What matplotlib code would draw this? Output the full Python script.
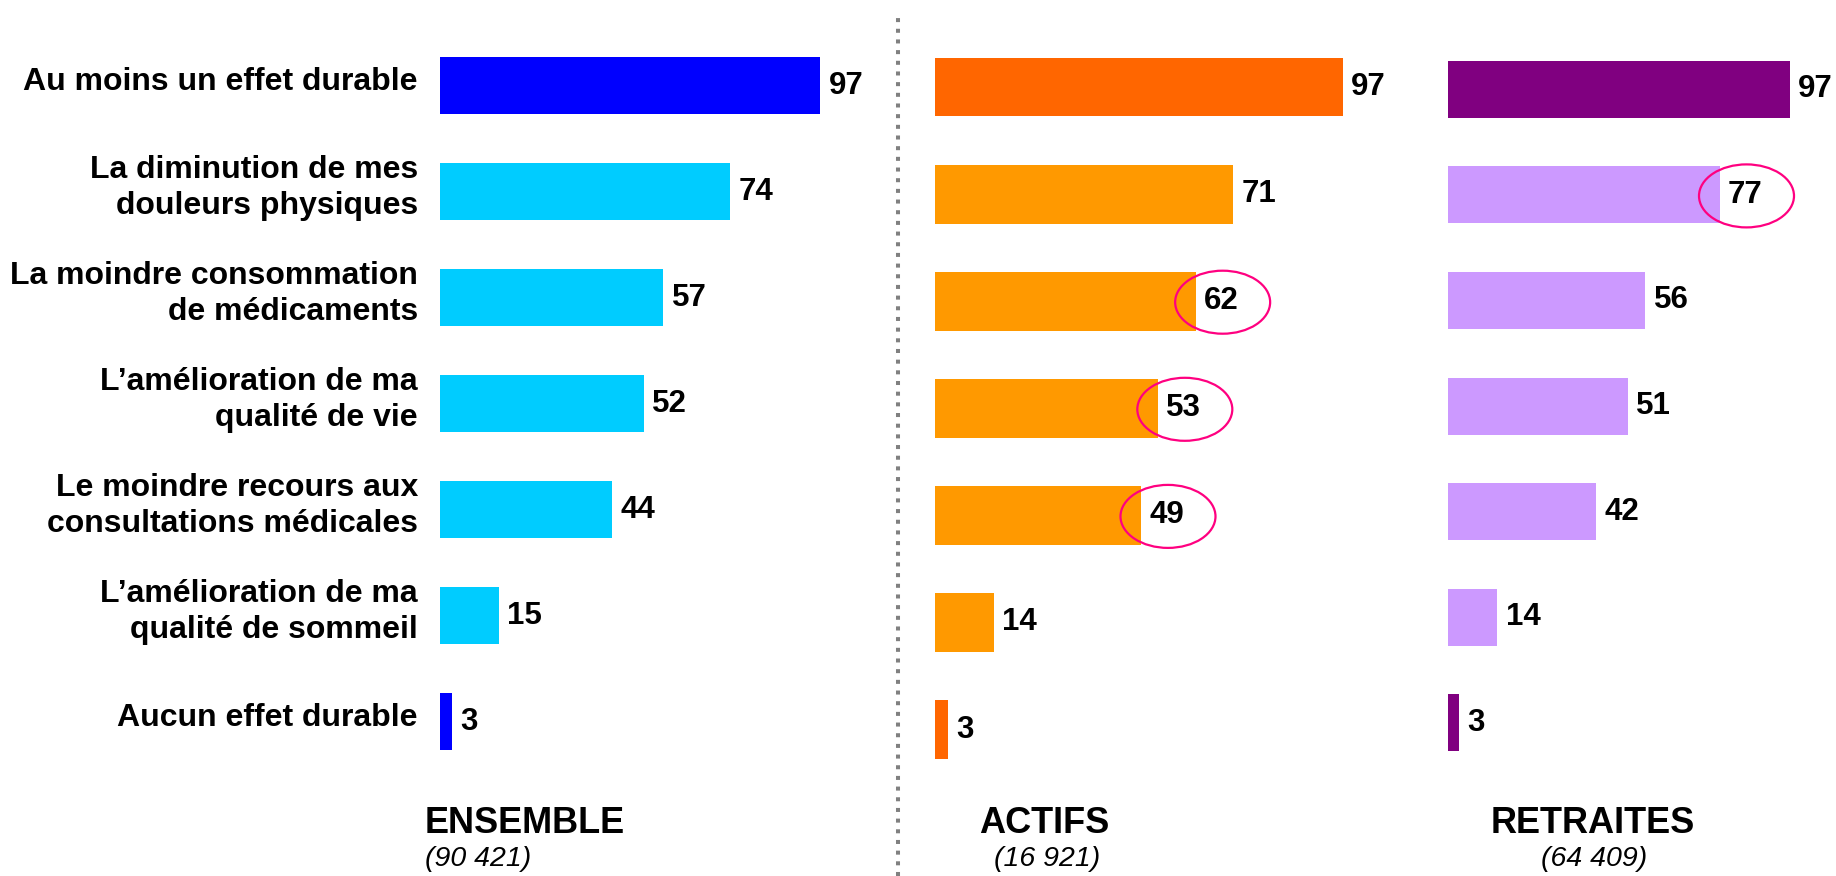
import matplotlib
matplotlib.use("Agg")
import matplotlib.pyplot as plt
from matplotlib.patches import Ellipse
from matplotlib.lines import Line2D
import matplotlib.transforms as mtransforms

plt.rcParams['font.family'] = ['Liberation Sans', 'DejaVu Sans']

categories = [
    "Au moins un effet durable",
    "La diminution de mes\ndouleurs physiques",
    "La moindre consommation\nde médicaments",
    "L\u2019amélioration de ma\nqualité de vie",
    "Le moindre recours aux\nconsultations médicales",
    "L\u2019amélioration de ma\nqualité de sommeil",
    "Aucun effet durable",
]
ensemble = [97, 74, 57, 52, 44, 15, 3]
actifs = [97, 71, 62, 53, 49, 14, 3]
retraites = [97, 77, 56, 51, 42, 14, 3]

group_titles = ["ENSEMBLE", "ACTIFS", "RETRAITES"]
group_counts = ["(90 421)", "(16 921)", "(64 409)"]

highlight_actifs = [2, 3, 4]
highlight_retraites = [1]

col_ens = ["#0000FF"] + ["#00CCFF"] * 5 + ["#0000FF"]
col_act = ["#FF6600"] + ["#FF9900"] * 5 + ["#FF6600"]
col_ret = ["#800080"] + ["#CC99FF"] * 5 + ["#800080"]

W, H = 1836, 876
fig = plt.figure(figsize=(W / 100, H / 100), dpi=100)

def make_ax(left_px, unit_px, row_px, first_center_px):
    width = unit_px * 100
    height = row_px * 7
    top = first_center_px - row_px / 2
    bottom = H - top - height
    ax = fig.add_axes([left_px / W, bottom / H, width / W, height / H])
    ax.set_xlim(0, 100)
    ax.set_ylim(6.5, -0.5)
    ax.axis('off')
    return ax

ax1 = make_ax(440, 3.918, 106.0, 85.8)
ax2 = make_ax(935, 4.204, 107.1, 87.0)
ax3 = make_ax(1448, 3.526, 105.6, 89.3)

ypos = list(range(len(categories)))
for ax, vals, cols, bh in [(ax1, ensemble, col_ens, 0.54),
                           (ax2, actifs, col_act, 0.55),
                           (ax3, retraites, col_ret, 0.54)]:
    ax.barh(ypos, vals, height=bh, color=cols, edgecolor='none')
    for y, v in zip(ypos, vals):
        ax.annotate(str(v), xy=(v, y), xytext=(6, 0), textcoords='offset points',
                    ha='left', va='center', fontsize=22.5, fontweight='bold',
                    color='black', annotation_clip=False)

# category labels
for y, c in zip(ypos, categories):
    ax1.annotate(c, xy=(0, y), xytext=(-16, 2.5), textcoords='offset points',
                 ha='right', va='center', fontsize=23, fontweight='bold',
                 color='black', linespacing=1.27, multialignment='right',
                 annotation_clip=False)

# highlight ellipses (sized in inches, anchored at bar end)
def ring(ax, v, y):
    trans = fig.dpi_scale_trans + mtransforms.ScaledTranslation(v, y, ax.transData)
    e = Ellipse((0.27, -0.01), 0.95, 0.63, transform=trans, fill=False,
                edgecolor='#FF0080', linewidth=1.6, clip_on=False)
    fig.add_artist(e)

for i in highlight_actifs:
    ring(ax2, actifs[i], i)
for i in highlight_retraites:
    ring(ax3, retraites[i], i)

# dotted divider
fig.add_artist(Line2D([898 / W, 898 / W], [0, 1 - 12 / H], color='#808080',
                      linewidth=2.9, linestyle=(0, (1.0, 1.65)),
                      dash_capstyle='butt'))

# group titles
title_x = [425 / W, 1044.5 / W, 1593 / W]
count_x = [425 / W, 1047 / W, 1594 / W]
title_ha = ['left', 'center', 'center']
for t, c, tx, cx, ha in zip(group_titles, group_counts, title_x, count_x, title_ha):
    fig.text(tx, 1 - 833 / H, t, ha=ha, va='baseline', fontsize=26,
             fontweight='bold', color='black')
    fig.text(cx, 1 - 866 / H, c, ha=ha, va='baseline', fontsize=20.5,
             fontstyle='italic', color='black')

fig.savefig("out.png", dpi=100)
